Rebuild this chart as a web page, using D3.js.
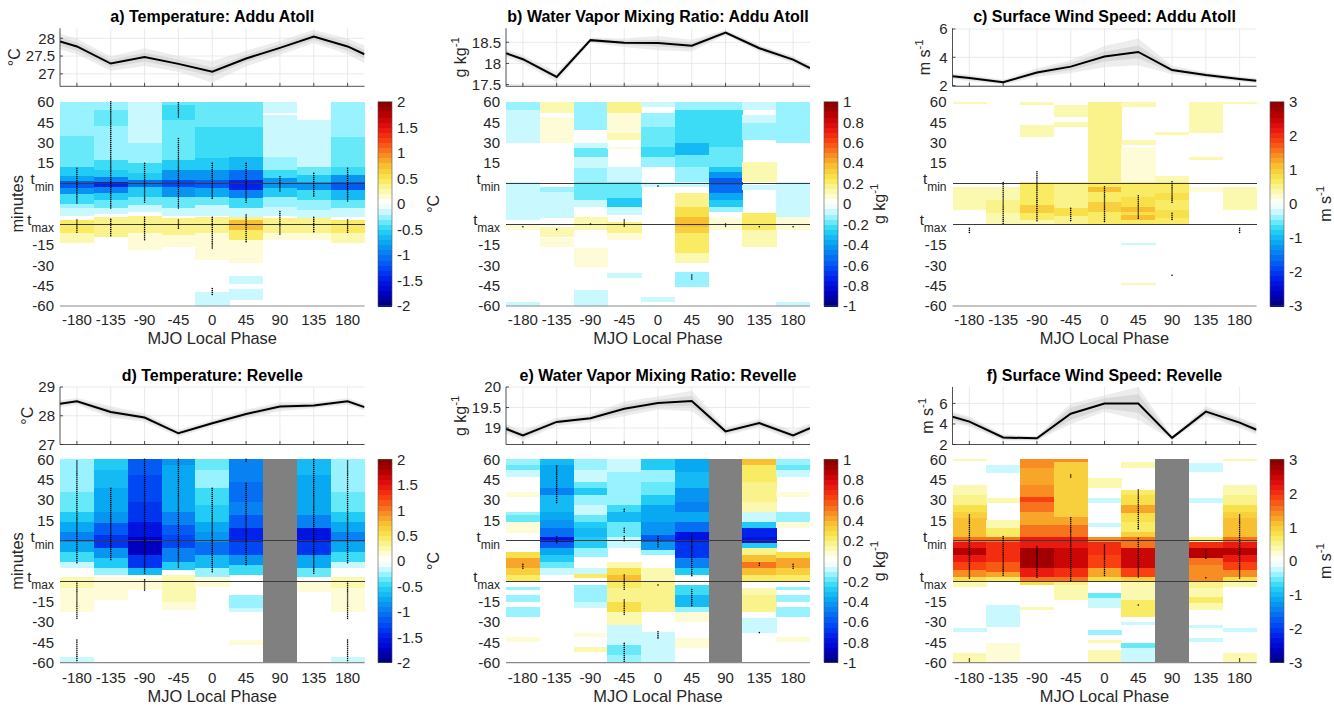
<!DOCTYPE html>
<html><head><meta charset="utf-8">
<script src="https://cdn.jsdelivr.net/npm/d3@7"></script>
<style>body{margin:0;background:#fff}svg{font-family:"Liberation Sans",Arial,Helvetica,sans-serif}</style>
</head><body><svg id="chart" width="1334" height="707"></svg>
<script>
// ---------------- DATA ----------------
const phases = [-180,-135,-90,-45,0,45,90,135,180];
const lineX = [-202.5,-180,-135,-90,-45,0,45,90,135,180,202.5];
// heatmap vertical coordinate u: 0 = 60 min before t_min, 4 = t_min, 6 = t_max, 10 = 60 min after t_max
const yTickU = [0,1,2,3,4,6,7,8,9,10];
const yTickLabels = ["60","45","30","15","tmin","tmax","-15","-30","-45","-60"];

const titles = ["a) Temperature: Addu Atoll","b) Water Vapor Mixing Ratio: Addu Atoll","c) Surface Wind Speed: Addu Atoll",
                "d) Temperature: Revelle","e) Water Vapor Mixing Ratio: Revelle","f) Surface Wind Speed: Revelle"];

// line plots (mean and two uncertainty half-widths)
const tempAdduMean = [27.91,27.77,27.29,27.47,27.28,27.06,27.43,27.73,28.05,27.77,27.55];
const tempAdduSd1  = [0.12,0.12,0.1,0.12,0.12,0.12,0.1,0.1,0.1,0.12,0.12];
const tempAdduSd2  = [0.22,0.22,0.2,0.25,0.22,0.3,0.22,0.2,0.18,0.22,0.25];
const qvAdduMean = [18.24,18.1,17.68,18.55,18.49,18.48,18.42,18.73,18.36,18.09,17.89];
const qvAdduSd1  = [0.05,0.05,0.05,0.04,0.05,0.08,0.07,0.04,0.05,0.05,0.05];
const qvAdduSd2  = [0.1,0.1,0.12,0.06,0.1,0.17,0.14,0.06,0.08,0.08,0.08];
const windAdduMean = [2.66,2.54,2.24,2.92,3.34,4.05,4.38,3.1,2.75,2.47,2.35];
const windAdduSd1  = [0.12,0.12,0.1,0.15,0.25,0.35,0.45,0.15,0.12,0.12,0.12];
const windAdduSd2  = [0.22,0.22,0.18,0.3,0.45,0.75,0.95,0.3,0.2,0.18,0.18];
const tempRevMean = [28.42,28.5,28.13,27.94,27.39,27.74,28.06,28.32,28.36,28.5,28.3];
const tempRevSd1  = [0.06,0.06,0.1,0.08,0.06,0.06,0.08,0.08,0.06,0.06,0.06];
const tempRevSd2  = [0.12,0.12,0.2,0.15,0.12,0.12,0.15,0.16,0.1,0.12,0.12];
const qvRevMean = [18.98,18.82,19.15,19.24,19.47,19.61,19.66,18.92,19.12,18.82,19.0];
const qvRevSd1  = [0.06,0.06,0.05,0.05,0.1,0.08,0.12,0.05,0.06,0.06,0.06];
const qvRevSd2  = [0.12,0.12,0.1,0.1,0.18,0.16,0.25,0.1,0.1,0.12,0.12];
const windRevMean = [4.7,4.23,2.68,2.6,5.0,6.0,6.0,2.65,5.2,4.13,3.44];
const windRevSd1  = [0.3,0.3,0.2,0.15,0.6,0.5,0.9,0.12,0.3,0.3,0.3];
const windRevSd2  = [0.5,0.5,0.3,0.2,1.0,0.8,1.6,0.2,0.5,0.5,0.5];

const lineDomains = [[26.65,28.28],[17.46,18.83],[1.95,6.05],[27,29],[18.6,20],[2,7.6]];
const lineTicks = [[27,27.5,28],[17.5,18,18.5],[2,4,6],[27,28,29],[19,19.5,20],[2,4,6]];
const colorMax = [2,1,3,2,1,3];
const colorTicks = [[-2,-1.5,-1,-0.5,0,0.5,1,1.5,2],[-1,-0.8,-0.6,-0.4,-0.2,0,0.2,0.4,0.6,0.8,1],[-3,-2,-1,0,1,2,3],
                    [-2,-1.5,-1,-0.5,0,0.5,1,1.5,2],[-1,-0.8,-0.6,-0.4,-0.2,0,0.2,0.4,0.6,0.8,1],[-3,-2,-1,0,1,2,3]];
const units = [["°C",""],["g kg","-1"],["m s","-1"],["°C",""],["g kg","-1"],["m s","-1"]];
const missingPhases = [[],[],[],[90],[90],[90]];

// heatmap anomaly blocks per phase column: [u0, u1, value]
const tempAdduCells = [
 [[0,1.7,-0.25],[1.7,3.2,-0.4],[3.2,3.65,-0.55],[3.65,3.9,-0.8],[3.9,4.2,-1.15],[4.2,4.5,-0.85],[4.5,5.0,-0.5],[5.0,5.2,-0.3],[5.2,5.6,-0.12],[5.8,6.45,0.4],[6.45,6.9,0.2]],
 [[0,0.4,-0.25],[0.4,1.2,-0.4],[1.2,2.85,-0.3],[2.85,3.35,-0.45],[3.35,3.67,-0.6],[3.67,3.92,-1.0],[3.92,4.16,-1.45],[4.16,4.49,-1.0],[4.49,4.81,-0.6],[4.81,5.2,-0.35],[5.2,5.5,-0.12],[5.65,6.6,0.35]],
 [[0,2.04,-0.2],[2.04,3.02,-0.3],[3.02,3.51,-0.45],[3.51,3.83,-0.6],[3.83,4.16,-1.05],[4.16,4.65,-0.6],[4.65,5.07,-0.35],[5.07,5.4,-0.12],[5.6,6.44,0.35],[6.44,7.25,0.15]],
 [[0,0.15,-0.35],[0.15,0.9,-0.45],[0.9,1.71,-0.35],[1.71,2.85,-0.4],[2.85,3.34,-0.55],[3.34,3.83,-0.85],[3.83,4.16,-1.3],[4.16,4.65,-0.85],[4.65,5.22,-0.4],[5.22,5.6,-0.12],[5.7,6.53,0.35],[6.53,7.1,0.15]],
 [[0,1.22,-0.35],[1.22,2.2,-0.45],[2.2,2.77,-0.5],[2.77,3.34,-0.6],[3.34,3.83,-0.85],[3.83,4.24,-1.2],[4.24,4.65,-0.75],[4.65,5.06,-0.4],[5.06,5.6,-0.12],[5.63,6.44,0.3],[6.44,7.75,0.15],[9.3,10,-0.15]],
 [[0,1.22,-0.35],[1.22,2.69,-0.45],[2.69,3.34,-0.7],[3.34,3.83,-1.05],[3.83,4.32,-1.5],[4.32,4.73,-1.0],[4.73,5.22,-0.45],[5.22,5.63,-0.12],[5.63,5.79,0.3],[5.79,6.28,0.75],[6.28,6.77,0.45],[6.77,7.91,0.15],[8.53,8.92,-0.15],[9.18,9.71,-0.15]],
 [[0,0.57,-0.12],[0.65,2.69,-0.2],[2.69,3.34,-0.3],[3.34,3.75,-0.5],[3.75,4.24,-0.9],[4.24,4.65,-0.55],[4.65,5.14,-0.3],[5.14,5.6,-0.12],[5.71,6.44,0.35],[6.44,6.77,0.15]],
 [[0.9,2.69,-0.12],[2.69,3.18,-0.2],[3.18,3.59,-0.4],[3.59,3.92,-0.6],[3.92,4.32,-0.9],[4.32,4.81,-0.5],[4.81,5.3,-0.25],[5.3,5.71,-0.12],[5.71,6.44,0.35],[6.44,6.77,0.15]],
 [[0,1.71,-0.25],[1.71,3.18,-0.35],[3.18,3.59,-0.5],[3.59,3.92,-0.85],[3.92,4.32,-1.15],[4.32,4.81,-0.7],[4.81,5.22,-0.35],[5.22,5.63,-0.12],[5.79,6.44,0.4],[6.44,6.93,0.2]]
];
const tempAdduDots = [[0,3.26,4.98],[0,5.79,6.44],[1,0,5.22],[1,5.76,6.57],[2,3.02,4.98],[2,5.66,6.8],[3,0.05,0.82],[3,1.8,5.22],[3,5.79,6.28],
 [4,3.02,4.81],[4,5.66,7.23],[4,9.14,9.5],[5,3.02,4.98],[5,5.55,6.93],[6,3.67,4.4],[6,5.38,6.53],[7,3.51,4.68],[7,5.66,6.41],[8,3.26,4.94],[8,5.79,6.44]];

const qvAdduCells = [
 [[0,0.41,-0.15],[0.41,2.04,-0.1],[3.92,5.79,-0.1],[5.99,6.28,0.08],[9.79,10,-0.1]],
 [[0,0.57,0.1],[0.73,2.04,0.08],[4.16,4.4,-0.12],[4.4,5.71,-0.07],[6.12,6.61,0.1],[6.69,7.1,0.08]],
 [[0,1.39,-0.15],[2.04,2.28,-0.1],[2.28,2.69,-0.2],[2.69,3.26,-0.1],[3.26,3.92,-0.15],[3.92,4.81,-0.2],[4.81,5.14,-0.1],[5.63,6.28,0.12],[7.18,8.08,0.08],[9.22,10,-0.1]],
 [[0,0.57,0.15],[0.57,1.55,0.08],[1.55,1.88,0.1],[2.2,2.33,0.08],[3.18,3.92,-0.08],[3.92,4.73,-0.2],[4.73,5.14,-0.3],[5.14,5.55,-0.1],[5.87,6.44,0.15],[6.44,6.77,0.07],[8.4,8.65,-0.1]],
 [[0,0.24,-0.1],[0.57,1.22,-0.12],[1.22,2.2,-0.2],[2.2,2.69,-0.25],[2.69,3.18,-0.12],[3.92,4.16,-0.1],[9.54,9.79,-0.1]],
 [[0,0.41,-0.15],[0.41,2.04,-0.25],[2.04,2.61,-0.35],[2.61,3.18,-0.2],[3.18,3.92,-0.12],[3.92,4.16,-0.1],[4.49,5.14,0.15],[5.14,5.63,0.25],[5.63,6.12,0.35],[6.12,6.44,0.3],[6.44,7.42,0.2],[7.42,7.91,0.1],[8.32,9.05,-0.15]],
 [[0,0.41,-0.15],[0.41,2.2,-0.22],[2.2,3.18,-0.18],[3.18,3.43,-0.3],[3.43,3.75,-0.45],[3.75,4.08,-0.6],[4.08,4.49,-0.55],[4.49,4.81,-0.4],[4.81,5.14,-0.3],[5.14,5.38,-0.15],[5.71,6.28,0.08]],
 [[0,0.41,-0.1],[0.65,1.06,-0.1],[1.06,1.55,-0.15],[1.55,1.88,-0.12],[2.94,3.92,0.1],[4.08,4.32,-0.1],[5.46,6.28,0.2],[6.28,7.1,0.1]],
 [[0,0.41,-0.15],[0.41,2.04,-0.12],[3.92,5.63,-0.1],[5.63,6.28,0.08],[9.79,10,-0.1]]
];
const qvAdduDots = [[0,6.12,6.12],[1,6.25,6.25],[2,5.99,5.99],[3,5.79,6.17],[4,4.13,4.13],[5,8.48,8.69],[6,5.99,6.18],[7,6.12,6.12],[8,6.12,6.12]];

const windAdduCells = [
 [[0,0.11,0.3],[4.16,5.3,0.3]],
 [[4.16,4.81,0.35],[4.81,5.46,0.5],[5.46,5.99,0.4]],
 [[0,0.16,0.3],[1.14,1.71,0.3],[3.92,4.81,0.6],[4.81,5.06,0.7],[5.06,5.46,0.95],[5.46,5.79,0.6],[5.79,5.99,0.4]],
 [[0.16,0.73,0.3],[0.98,1.22,0.3],[3.92,5.22,0.5],[5.22,5.6,0.85],[5.6,5.99,0.5]],
 [[0,3.92,0.45],[3.92,4.16,0.6],[4.16,4.4,1.1],[4.4,4.89,0.7],[4.89,5.38,0.9],[5.38,5.99,0.6]],
 [[0,0.24,0.3],[1.88,2.12,0.3],[2.28,3.92,0.2],[3.92,4.65,0.7],[4.65,5.14,0.85],[5.14,5.38,1.1],[5.38,5.55,0.85],[5.55,5.79,1.1],[5.79,5.99,0.7],[6.9,7.01,-0.3],[8.89,8.99,0.3]],
 [[1.47,1.63,0.3],[3.62,3.92,0.3],[3.92,4.49,0.6],[4.49,4.81,0.85],[4.81,5.3,0.6],[5.3,5.71,0.85],[5.71,5.99,0.6]],
 [[0,1.55,0.3],[2.69,2.85,0.3],[4.16,4.4,0.2]],
 [[0,0.11,0.3],[4.16,5.3,0.3]]
];
const windAdduDots = [[0,6.2,6.44],[1,3.96,6.04],[2,3.43,5.87],[3,5.22,5.87],[4,4.16,5.87],[5,4.6,5.76],[6,3.92,4.98],[6,5.46,5.76],[6,8.5,8.5],[8,6.2,6.44]];

const tempRevCells = [
 [[0,1.59,-0.3],[1.59,2.57,-0.4],[2.57,3.07,-0.55],[3.07,3.56,-0.75],[3.56,4.05,-1.0],[4.05,4.54,-0.8],[4.54,5.03,-0.5],[5.03,5.36,-0.2],[5.77,6.34,0.2],[6.34,7.49,0.12],[9.7,10,-0.2]],
 [[0,0.52,-0.55],[0.52,1.43,-0.65],[1.43,2.57,-0.8],[2.57,3.15,-0.9],[3.15,3.72,-1.15],[3.72,4.38,-1.35],[4.38,4.87,-0.9],[4.87,5.36,-0.6],[5.36,5.69,-0.3],[5.77,6.92,0.12]],
 [[0,0.77,-1.15],[0.77,2.08,-1.25],[2.08,3.07,-1.35],[3.07,3.8,-1.55],[3.8,4.7,-1.75],[4.7,5.36,-1.35],[5.36,5.69,-0.7],[5.82,6.43,0.15]],
 [[0,0.28,-0.85],[0.28,1.43,-0.75],[1.43,2.57,-0.8],[2.57,3.23,-0.95],[3.23,3.72,-1.15],[3.72,4.38,-1.3],[4.38,5.03,-0.95],[5.03,5.44,-0.55],[5.69,7.0,0.25],[7.0,7.41,0.1]],
 [[0,0.52,-0.4],[0.52,1.43,-0.3],[1.43,2.25,-0.45],[2.25,3.07,-0.55],[3.07,3.56,-0.75],[3.56,4.05,-0.9],[4.05,4.7,-1.1],[4.7,5.36,-0.65],[5.36,5.77,-0.25],[5.77,6.26,0.12]],
 [[0,1.1,-0.95],[1.1,2.08,-1.05],[2.08,2.74,-0.95],[2.74,3.39,-1.15],[3.39,4.05,-1.5],[4.05,4.7,-1.3],[4.7,5.2,-0.9],[5.2,5.69,-0.45],[6.67,7.0,-0.25],[7.0,7.33,-0.3],[7.33,7.49,-0.15],[8.89,9.13,0.15]],
 [],
 [[0,0.77,-0.65],[0.77,1.75,-0.8],[1.75,2.74,-0.75],[2.74,3.39,-1.0],[3.39,4.05,-1.55],[4.05,4.7,-1.4],[4.7,5.36,-0.8],[5.36,5.77,-0.35],[6.02,6.51,0.12]],
 [[0,1.59,-0.3],[1.59,2.57,-0.4],[2.57,3.07,-0.55],[3.07,3.56,-0.75],[3.56,4.05,-1.0],[4.05,4.54,-0.8],[4.54,5.03,-0.5],[5.03,5.36,-0.2],[5.77,6.34,0.2],[6.34,7.49,0.12],[9.7,10,-0.2]]
];
const tempRevDots = [[0,0.08,5.11],[0,6.02,7.9],[0,8.89,10],[1,1.43,4.95],[2,0,5.61],[2,5.93,6.43],[3,0,5.36],[4,1.43,5.61],[5,0,0.15],[5,1.18,5.2],[7,0,5.61],[8,0.08,5.11],[8,6.02,7.9],[8,8.89,10]];

const qvRevCells = [
 [[0,0.28,-0.12],[0.28,0.52,-0.18],[0.52,0.85,-0.1],[1.59,1.84,0.05],[2.57,2.74,-0.12],[2.74,3.07,-0.18],[3.07,3.39,0.08],[3.39,3.64,0.05],[4.54,4.87,0.25],[4.87,5.36,0.4],[5.36,5.69,0.3],[5.69,6.02,0.2],[6.26,6.43,-0.15],[6.67,7.0,-0.15],[7.25,7.74,-0.12],[8.72,8.97,0.05]],
 [[0,0.28,-0.35],[0.28,1.43,-0.4],[1.43,1.75,-0.5],[1.75,2.57,-0.35],[2.57,2.98,-0.4],[2.98,3.39,-0.45],[3.39,3.8,-0.55],[3.8,4.05,-0.8],[4.05,4.38,-0.6],[4.38,4.7,-0.4],[4.7,5.03,-0.3],[5.03,5.36,-0.2],[5.36,5.69,-0.1]],
 [[0,0.52,-0.15],[0.52,1.1,-0.1],[1.1,1.43,-0.2],[1.43,1.75,-0.3],[1.75,2.25,-0.15],[2.25,2.74,-0.1],[2.74,3.07,-0.2],[3.07,3.39,-0.3],[3.39,3.8,-0.35],[3.8,4.38,-0.3],[4.38,4.79,-0.15],[5.36,5.66,-0.06],[5.66,5.85,0.2],[6.18,7.0,-0.15],[7.0,7.33,-0.1],[8.56,8.75,0.06],[9.25,9.46,0.1]],
 [[0,0.61,-0.08],[0.61,1.1,-0.12],[1.1,2.25,-0.15],[2.25,2.57,-0.25],[2.57,3.07,-0.35],[3.07,3.8,-0.2],[3.8,4.38,-0.1],[5.03,5.36,0.1],[5.36,5.69,0.25],[5.69,6.02,0.35],[6.02,6.34,0.2],[6.34,7.0,0.15],[7.0,7.49,0.25],[7.49,8.15,0.1],[8.15,8.48,-0.06],[8.48,9.13,-0.1],[9.13,9.62,-0.18],[9.62,10,-0.12]],
 [[0,0.52,-0.3],[0.52,1.1,-0.15],[1.1,1.75,-0.2],[1.75,2.25,-0.3],[2.25,3.07,-0.4],[3.07,3.72,-0.45],[3.72,4.05,-0.6],[4.05,4.46,-0.45],[4.46,4.7,-0.15],[5.36,6.02,0.12],[6.02,7.49,0.15],[8.48,8.97,-0.1],[8.97,10,-0.08]],
 [[0,0.61,-0.4],[0.61,1.43,-0.35],[1.43,2.08,-0.45],[2.08,2.57,-0.5],[2.57,3.07,-0.4],[3.07,3.56,-0.55],[3.56,4.05,-0.8],[4.05,4.87,-0.7],[4.87,5.36,-0.5],[5.36,5.69,-0.3],[6.18,6.67,-0.25],[6.67,7.25,-0.35],[7.25,7.49,-0.15],[7.49,7.98,0.08],[8.8,9.3,0.05]],
 [],
 [[0,0.28,0.35],[0.28,1.1,0.22],[1.1,2.08,0.15],[2.08,2.57,0.1],[2.57,3.07,-0.1],[3.07,3.39,-0.3],[3.39,3.8,-0.75],[3.8,4.13,-0.8],[4.13,4.38,-0.3],[4.38,4.7,0.15],[4.7,5.03,0.35],[5.03,5.36,0.5],[5.36,5.69,0.35],[5.69,6.02,0.2],[6.34,6.67,0.1],[6.67,7.49,0.15],[7.82,8.56,-0.1]],
 [[0,0.28,-0.12],[0.28,0.52,-0.18],[0.52,0.85,-0.1],[1.59,1.84,0.05],[2.57,3.07,-0.15],[3.07,3.39,0.08],[4.54,4.87,0.25],[4.87,5.36,0.4],[5.36,5.69,0.3],[5.69,6.02,0.2],[6.26,6.43,-0.15],[6.67,7.0,-0.15],[7.25,7.74,-0.12],[8.72,8.97,0.05]]
];
const qvRevDots = [[0,5.16,5.36],[1,0.33,2.16],[1,3.8,4.13],[3,2.46,2.57],[3,3.39,3.64],[3,3.8,4.05],[3,5.69,6.43],[3,6.92,7.66],[3,9.05,10],
 [4,3.8,4.3],[4,6.18,6.26],[4,8.48,8.8],[5,3.72,5.77],[5,6.4,7.25],[7,5.11,5.3],[7,8.52,8.52],[8,5.16,5.36]];

const windRevCells = [
 [[0,0.08,0.3],[1.26,1.75,0.3],[1.75,2.25,0.5],[2.25,2.57,0.8],[2.57,2.9,0.9],[2.9,3.8,1.1],[3.8,4.05,1.5],[4.05,4.38,2.2],[4.38,4.7,2.6],[4.7,5.03,2.2],[5.03,5.44,1.8],[5.44,5.77,1.4],[5.77,6.02,0.8],[6.02,6.26,0.3],[8.31,8.48,-0.3],[9.54,10,0.3]],
 [[0.28,0.69,-0.3],[1.92,2.16,0.3],[3.0,3.15,0.3],[3.15,3.39,0.4],[3.39,3.8,0.6],[3.8,4.05,1.5],[4.05,5.03,2.0],[5.03,5.52,1.7],[5.52,5.77,1.2],[5.77,6.02,0.6],[7.16,8.23,-0.25],[9.05,10,0.25]],
 [[0,0.44,1.4],[0.44,1.26,1.3],[1.26,1.84,1.45],[1.84,2.08,1.8],[2.08,2.57,1.5],[2.57,3.23,1.3],[3.23,3.8,1.5],[3.8,4.38,2.2],[4.38,5.36,2.8],[5.36,5.77,2.2],[5.77,6.02,1.6],[6.02,6.18,0.8],[7.28,7.41,0.3]],
 [[0,0.11,1.4],[0.11,2.82,1.0],[2.82,3.23,1.2],[3.23,3.8,1.5],[3.8,4.38,2.2],[4.38,5.36,2.5],[5.36,5.77,2.0],[5.77,6.02,1.5],[6.02,6.18,0.5],[6.18,6.92,0.3]],
 [[0.93,1.43,0.3],[1.92,2.16,-0.3],[3.15,3.31,-0.3],[3.8,4.05,1.4],[4.05,4.7,2.0],[4.7,5.36,1.8],[5.36,5.77,1.3],[5.77,6.02,0.8],[6.59,6.84,-0.5],[6.84,7.33,-0.25],[8.39,8.64,-0.35],[8.89,9.05,0.3],[9.38,10,0.3]],
 [[0.11,0.44,0.3],[1.51,1.75,0.7],[1.75,2.25,0.85],[2.25,2.66,1.2],[2.66,3.07,0.8],[3.07,3.56,0.6],[3.56,3.8,0.9],[3.8,4.38,1.5],[4.38,5.36,2.5],[5.36,5.77,1.8],[5.77,6.02,0.9],[6.02,6.92,0.4],[6.92,7.74,0.6],[7.98,8.15,-0.3],[9.05,9.3,-0.6],[9.3,10,-0.3]],
 [],
 [[0.2,0.61,-0.3],[1.92,2.16,-0.3],[3.8,4.05,0.5],[4.05,4.38,2.0],[4.38,4.87,2.6],[4.87,5.2,1.6],[5.2,6.02,1.4],[6.02,6.34,0.5],[6.34,6.75,0.3],[6.75,7.08,0.6],[7.08,7.41,0.4],[8.15,8.31,-0.3],[8.8,8.97,-0.3]],
 [[0,0.08,0.3],[1.26,1.75,0.3],[1.75,2.25,0.5],[2.25,2.57,0.8],[2.57,2.9,0.9],[2.9,3.8,1.1],[3.8,4.05,1.5],[4.05,4.38,2.2],[4.38,4.7,2.6],[4.7,5.03,2.2],[5.03,5.44,1.8],[5.44,5.77,1.4],[5.77,6.02,0.8],[6.02,6.26,0.3],[8.31,8.48,-0.3],[9.54,10,0.3]]
];
const windRevDots = [[0,2.74,5.85],[0,9.82,9.92],[1,3.8,5.77],[2,4.3,5.84],[3,0.77,0.93],[3,2.87,6.02],[4,4.21,5.74],[5,1.51,3.48],[5,3.89,5.85],[5,7.16,7.16],[7,4.46,4.95],[7,5.82,5.82],[8,2.74,5.85],[8,9.82,9.92]];

// colormap anchor colours (normalised -1..1)
const cmapPos = [-1,-0.875,-0.75,-0.625,-0.5,-0.375,-0.25,-0.2,-0.125,-0.06,0,0.04,0.125,0.25,0.375,0.5,0.625,0.75,0.875,1];
const cmapCol = ["#000078","#0000c0","#0018e8","#0048f4","#0878f2","#08a8f2","#28d4f6","#50e4f8","#98f2ff","#d8fbff","#ffffff","#fffff0","#fbf8b0","#f8e850","#f8c030","#f88020","#f84010","#e81010","#b80000","#800000"];
const nLevels = 40;

// ---------------- LAYOUT ----------------
const colsL = [{x0:60,x1:364.5,cb:378},{x0:506,x1:810,cb:824},{x0:952.5,x1:1256.5,cb:1270}];
const rowsL = [{lt:28.3,lb:86.3,ht:101.7,hb:306,title:22,xt:325,xl:344},{lt:387,lb:444.5,ht:459.3,hb:662.7,title:381,xt:683,xl:702}];
const ylabX = [14,460,924,27,460,927];

const means=[tempAdduMean,qvAdduMean,windAdduMean,tempRevMean,qvRevMean,windRevMean];
const sd1s=[tempAdduSd1,qvAdduSd1,windAdduSd1,tempRevSd1,qvRevSd1,windRevSd1];
const sd2s=[tempAdduSd2,qvAdduSd2,windAdduSd2,tempRevSd2,qvRevSd2,windRevSd2];
const cellsAll=[tempAdduCells,qvAdduCells,windAdduCells,tempRevCells,qvRevCells,windRevCells];
const dotsAll=[tempAdduDots,qvAdduDots,windAdduDots,tempRevDots,qvRevDots,windRevDots];

const svg = d3.select("#chart");
const cInterp = d3.scaleLinear().domain(cmapPos).range(cmapCol).interpolate(d3.interpolateRgb).clamp(true);
const levelColors = d3.range(nLevels).map(i=>cInterp(-1+(i+0.5)*2/nLevels));
const fmt = v => String(Number(v.toFixed(2)));
const FS = 15;

function unitText(sel, u, fs){
  sel.append("tspan").text(u[0]);
  if(u[1]) sel.append("tspan").attr("font-size",fs*0.72).attr("dy",-fs*0.42).text(u[1]);
}

function drawPanel(k){
  const L = colsL[k%3], R = rowsL[Math.floor(k/3)];
  const g = svg.append("g");
  const xLin = d3.scaleLinear().domain([-202.5,202.5]).range([L.x0,L.x1]);
  const xb = d3.scaleBand().domain(phases).range([L.x0,L.x1]);
  const yL = d3.scaleLinear().domain(lineDomains[k]).range([R.lb,R.lt]);
  const yH = d3.scaleLinear().domain([0,10]).range([R.ht,R.hb]);
  const cmax = colorMax[k];
  const color = d3.scaleQuantize().domain([-cmax,cmax]).range(levelColors);

  // title
  g.append("text").attr("x",(L.x0+L.x1)/2).attr("y",R.title).attr("text-anchor","middle")
   .attr("font-weight","bold").attr("font-size",16).attr("fill","#000").text(titles[k]);

  // ----- line plot -----
  const clipId="clip"+k;
  g.append("clipPath").attr("id",clipId).append("rect").attr("x",L.x0).attr("y",R.lt).attr("width",L.x1-L.x0).attr("height",R.lb-R.lt);
  const lg = g.append("g");
  lg.selectAll(".gv").data(phases).join("line").attr("x1",d=>xLin(d)).attr("x2",d=>xLin(d)).attr("y1",R.lt).attr("y2",R.lb)
    .attr("stroke","#e4e4e4").attr("stroke-width",0.8);
  lg.selectAll(".gh").data(lineTicks[k]).join("line").attr("x1",L.x0).attr("x2",L.x1).attr("y1",d=>yL(d)).attr("y2",d=>yL(d))
    .attr("stroke","#e4e4e4").attr("stroke-width",0.8);
  const m = means[k], s1 = sd1s[k], s2 = sd2s[k];
  const area = d3.area().x(d=>xLin(d.x)).y0(d=>yL(d.lo)).y1(d=>yL(d.hi));
  const bandOuter = lineX.map((x,i)=>({x,lo:m[i]-s2[i],hi:m[i]+s2[i]}));
  const bandInner = lineX.map((x,i)=>({x,lo:m[i]-s1[i],hi:m[i]+s1[i]}));
  const cg = lg.append("g").attr("clip-path",`url(#${clipId})`);
  cg.append("path").attr("d",area(bandOuter)).attr("fill","#d8d8d8").attr("fill-opacity",0.45);
  cg.append("path").attr("d",area(bandInner)).attr("fill","#c8c8c8").attr("fill-opacity",0.5);
  cg.append("path").attr("d",d3.line().x((d,i)=>xLin(lineX[i])).y(d=>yL(d))(m)).attr("fill","none").attr("stroke","#000").attr("stroke-width",2);
  // axes lines
  lg.append("line").attr("x1",L.x0).attr("x2",L.x0).attr("y1",R.lt).attr("y2",R.lb).attr("stroke","#262626").attr("stroke-width",0.8);
  lg.append("line").attr("x1",L.x0).attr("x2",L.x1).attr("y1",R.lb).attr("y2",R.lb).attr("stroke","#262626").attr("stroke-width",0.8);
  lg.selectAll(".tx").data(phases).join("line").attr("x1",d=>xLin(d)).attr("x2",d=>xLin(d)).attr("y1",R.lb).attr("y2",R.lb-3.5).attr("stroke","#262626").attr("stroke-width",0.8);
  lg.selectAll(".ty").data(lineTicks[k]).join("line").attr("x1",L.x0).attr("x2",L.x0+3).attr("y1",d=>yL(d)).attr("y2",d=>yL(d)).attr("stroke","#262626").attr("stroke-width",0.8);
  lg.selectAll(".tyl").data(lineTicks[k]).join("text").attr("x",L.x0-5).attr("y",d=>yL(d)).attr("dy","0.36em")
    .attr("text-anchor","end").attr("font-size",FS).attr("fill","#262626").text(fmt);
  const yl = lg.append("text").attr("transform",`translate(${ylabX[k]},${(R.lt+R.lb)/2}) rotate(-90)`).attr("text-anchor","middle")
    .attr("dy","0.35em").attr("font-size",16).attr("fill","#262626");
  unitText(yl, units[k], 16);

  // ----- heatmap -----
  const hg = g.append("g").attr("shape-rendering","crispEdges");
  const cellData = [];
  cellsAll[k].forEach((col,ci)=>col.forEach(c=>cellData.push({ph:phases[ci],u0:c[0],u1:c[1],v:c[2]})));
  hg.selectAll("rect.cell").data(cellData).join("rect").attr("class","cell")
    .attr("x",d=>xb(d.ph)).attr("width",xb.bandwidth()+0.4)
    .attr("y",d=>yH(d.u0)).attr("height",d=>yH(d.u1)-yH(d.u0)).attr("fill",d=>color(d.v));
  hg.selectAll("rect.miss").data(missingPhases[k]).join("rect").attr("class","miss")
    .attr("x",d=>xb(d)).attr("width",xb.bandwidth()).attr("y",yH(0)).attr("height",yH(10)-yH(0)).attr("fill","#808080");
  // t_min / t_max lines
  hg.selectAll("line.tl").data([4,6]).join("line").attr("class","tl").attr("x1",L.x0).attr("x2",L.x1)
    .attr("y1",d=>yH(d)).attr("y2",d=>yH(d)).attr("stroke","#3a3a3a").attr("stroke-width",1);
  // significance dots
  const dotData = [];
  dotsAll[k].forEach(([ci,u0,u1])=>{ d3.range(u0,u1+0.001,0.1).forEach(u=>dotData.push({ph:phases[ci],u})); });
  g.append("g").selectAll("circle.dot").data(dotData).join("circle").attr("class","dot")
    .attr("cx",d=>xb(d.ph)+xb.bandwidth()/2).attr("cy",d=>yH(d.u)).attr("r",0.8).attr("fill","#000");
  // bottom axis
  g.append("line").attr("x1",L.x0).attr("x2",L.x1).attr("y1",R.hb).attr("y2",R.hb).attr("stroke","#8a8a8a").attr("stroke-width",1.2);
  g.selectAll(".xtl").data(phases).join("text").attr("x",d=>xb(d)+xb.bandwidth()/2).attr("y",R.xt)
    .attr("text-anchor","middle").attr("font-size",FS).attr("fill","#262626").text(d=>String(d));
  g.append("text").attr("x",(L.x0+L.x1)/2).attr("y",R.xl).attr("text-anchor","middle").attr("font-size",16.4).attr("fill","#262626").text("MJO Local Phase");
  // y tick labels
  yTickU.forEach((u,i)=>{
    const lab = yTickLabels[i];
    const t = g.append("text").attr("x",L.x0-6).attr("text-anchor","end").attr("font-size",FS).attr("fill","#262626");
    if(lab==="tmin"||lab==="tmax"){
      t.attr("y",yH(u)+1);
      t.append("tspan").text("t");
      t.append("tspan").attr("font-size",12).attr("dy",7).text(lab.slice(1));
    } else {
      t.attr("y",yH(u)).attr("dy","0.36em").text(lab);
    }
  });
  if(k%3===0){
    g.append("text").attr("transform",`translate(17,${(R.ht+R.hb)/2}) rotate(-90)`).attr("text-anchor","middle")
      .attr("dy","0.35em").attr("font-size",16.4).attr("fill","#262626").text("minutes");
  }
  // ----- colorbar -----
  const yC = d3.scaleLinear().domain([-cmax,cmax]).range([R.hb,R.ht]);
  const step = 2*cmax/nLevels;
  const cbg = g.append("g").attr("shape-rendering","crispEdges");
  cbg.selectAll("rect").data(levelColors).join("rect").attr("x",L.cb).attr("width",14)
    .attr("y",(d,i)=>yC(-cmax+(i+1)*step)).attr("height",(d,i)=>yC(-cmax+i*step)-yC(-cmax+(i+1)*step)+0.5).attr("fill",d=>d);
  g.append("rect").attr("x",L.cb).attr("y",R.ht).attr("width",14).attr("height",R.hb-R.ht).attr("fill","none").attr("stroke","#555").attr("stroke-width",0.6);
  g.selectAll(".cbt").data(colorTicks[k]).join("text").attr("x",L.cb+19).attr("y",d=>yC(d)).attr("dy","0.36em")
    .attr("font-size",FS).attr("fill","#262626").text(fmt);
  const cl = g.append("text").attr("transform",`translate(${L.cb+55},${(R.ht+R.hb)/2}) rotate(-90)`).attr("text-anchor","middle")
    .attr("dy","0.35em").attr("font-size",16).attr("fill","#262626");
  unitText(cl, units[k], 16);
}
for(let k=0;k<6;k++) drawPanel(k);
</script></body></html>
